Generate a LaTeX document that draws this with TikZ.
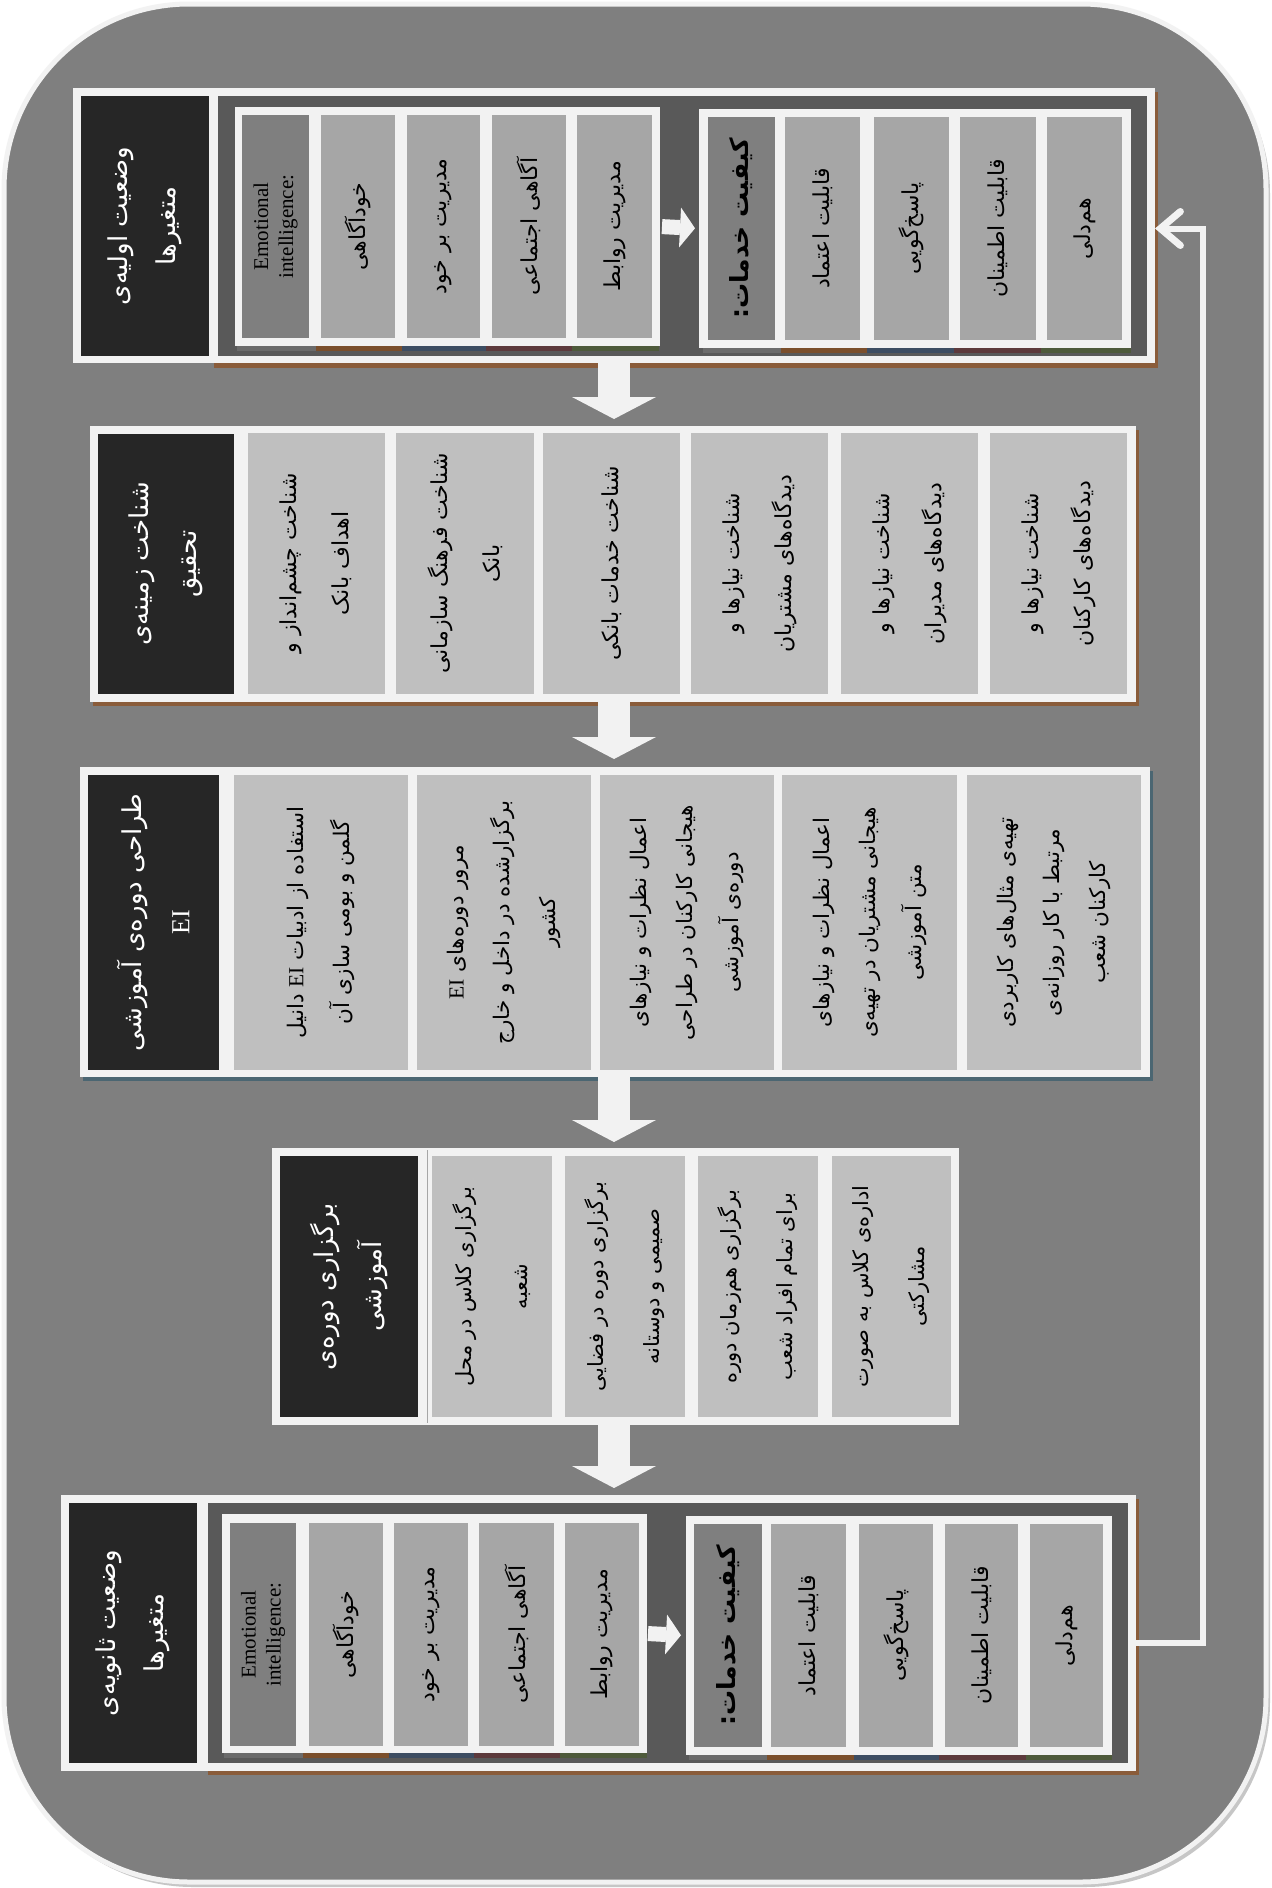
\documentclass[tikz,border=0pt]{standalone}
\usepackage{fontspec}
\setmainfont{Liberation Serif}
\newfontfamily\farsi[Script=Arabic]{DejaVu Sans}
\newfontfamily\latn{Liberation Serif}
\TeXXeTstate=1
\usetikzlibrary{arrows.meta}
\definecolor{bg}{HTML}{7F7F7F}
\definecolor{wf}{HTML}{F2F2F2}
\definecolor{dk}{HTML}{595959}
\definecolor{blk}{HTML}{262626}
\definecolor{cA}{HTML}{A6A6A6}
\definecolor{cD}{HTML}{7F7F7F}
\definecolor{cB}{HTML}{BFBFBF}
\definecolor{shB}{HTML}{8A5C3A}
\definecolor{shT}{HTML}{4B6672}
\definecolor{bA}{HTML}{6B6B6B}
\definecolor{bB}{HTML}{7B4F2C}
\definecolor{bC}{HTML}{3D4D62}
\definecolor{bD}{HTML}{5D3A3C}
\definecolor{bE}{HTML}{4E5A3B}
\newcommand\myRL[1]{\beginR#1\endR}
\newcommand\myLR[1]{\beginL{\latn #1}\endL{}}
\newcommand\mkrect[6]{\node[#6, anchor=north west, inner sep=0pt, outer sep=0pt, minimum width={(#4-#2)*1pt}, minimum height={(#5-#3)*1pt}] (#1) at (#2,#3) {};}
\newcommand\mkcell[7]{\node[#6, rotate=90, inner sep=0pt, outer sep=0pt, minimum width={(#5-#3)*1pt}, minimum height={(#4-#2)*1pt}] (#1) at ({(#2+#4)/2},{(#3+#5)/2}) {#7};}
\tikzset{
 frame/.style={fill=wf},
 dark/.style={fill=dk},
 tx/.style={align=center, text=black, font=\farsi\fontsize{22}{52}\selectfont},
 ttl/.style={fill=blk, align=center, text=white, font=\farsi\fontsize{26}{48}\selectfont},
 cellA/.style={fill=cA, tx},
 cellD/.style={fill=cD, tx},
 cellB/.style={fill=cB, tx},
 cellB3/.style={fill=cB, tx, font=\farsi\fontsize{21.5}{46}\selectfont},
 cellB4/.style={fill=cB, tx, font=\farsi\fontsize{21}{56}\selectfont},
 eicell/.style={fill=cD, align=center, text=black, font=\latn\fontsize{21}{25}\selectfont},
 sqcell/.style={fill=cD, align=center, text=black, font=\farsi\bfseries\fontsize{25}{30}\selectfont},
 blockarrow/.style={draw=wf, line width=32pt, -{Triangle[length=22pt,width=84pt,line width=0pt]}},
 smallarrow/.style={draw=wf, line width=15pt, -{Triangle[length=15pt,width=40pt,line width=0pt]}},
 fb/.style={draw=wf, line width=6pt, -{Straight Barb[length=20pt,width=34pt,line width=7pt,line cap=round]}},
}
\begin{document}
\begin{tikzpicture}[x=1pt,y=-1pt]
\useasboundingbox (0,0) rectangle (1272,1888);
\fill[white] (0,0) rectangle (1272,1888);
% outer rounded panel
\fill[gray!45, rounded corners=185pt] (8,9) rectangle (1270,1887);
\draw[wf, fill=bg, line width=5pt, rounded corners=185pt] (4,4) rectangle (1266,1882);

% ================= Row 1 =================
\mkrect{r1tf}{73}{88}{217}{363}{frame}
\mkcell{r1t}{81}{96}{209}{356}{ttl}{\myRL{وضعیت اولیه‌ی}\\\myRL{متغیرها}}
\fill[shB] (214,92) rectangle (1158,368);
\mkrect{r1box}{211}{88}{1155}{363}{frame}
\mkrect{r1in}{218}{96}{1147}{356}{dark}
\fill[bA] (237,342) rectangle (316,351);
\fill[bB] (316,342) rectangle (402,351);
\fill[bC] (402,342) rectangle (486,351);
\fill[bD] (486,342) rectangle (572,351);
\fill[bE] (572,342) rectangle (659,351);
\fill[bA] (703,344) rectangle (781,353);
\fill[bB] (781,344) rectangle (867,353);
\fill[bC] (867,344) rectangle (954,353);
\fill[bD] (954,344) rectangle (1041,353);
\fill[bE] (1041,344) rectangle (1131,353);
\mkrect{r1eg}{235}{107}{660}{346}{frame}
\mkcell{r1e0}{242}{115}{309}{338}{eicell}{Emotional\\intelligence:}
\mkcell{r1e1}{321}{115}{395}{338}{cellA}{\myRL{خودآگاهی}}
\mkcell{r1e2}{407}{115}{480}{338}{cellA}{\myRL{مدیریت بر خود}}
\mkcell{r1e3}{492}{115}{566}{338}{cellA}{\myRL{آگاهی اجتماعی}}
\mkcell{r1e4}{577}{115}{652}{338}{cellA}{\myRL{مدیریت روابط}}
\mkrect{r1sg}{699}{109}{1131}{348}{frame}
\mkcell{r1s0}{708}{117}{775}{340}{sqcell}{\myRL{کیفیت خدمات:}}
\mkcell{r1s1}{785}{117}{860}{340}{cellA}{\myRL{قابلیت اعتماد}}
\mkcell{r1s2}{874}{117}{949}{340}{cellA}{\myRL{پاسخ‌گویی}}
\mkcell{r1s3}{960}{117}{1036}{340}{cellA}{\myRL{قابلیت اطمینان}}
\mkcell{r1s4}{1047}{117}{1122}{340}{cellA}{\myRL{هم‌دلی}}
\draw[smallarrow, shorten <=2pt, shorten >=4pt] (r1eg.east) -- (r1sg.west);

% ================= Row 2 =================
\fill[shB] (93,430) rectangle (1139,706);
\mkrect{r2box}{90}{426}{1136}{702}{frame}
\mkcell{r2t}{97.5}{434}{234}{694}{ttl}{\myRL{شناخت زمینه‌ی}\\\myRL{تحقیق}}
\mkcell{r2c1}{247.5}{433}{384.5}{694}{cellB}{\myRL{شناخت چشم‌انداز و}\\\myRL{اهداف بانک}}
\mkcell{r2c2}{396}{433}{534}{694}{cellB}{\myRL{شناخت فرهنگ سازمانی}\\\myRL{بانک}}
\mkcell{r2c3}{543}{433}{680}{694}{cellB}{\myRL{شناخت خدمات بانکی}}
\mkcell{r2c4}{691}{433}{828}{694}{cellB}{\myRL{شناخت نیازها و}\\\myRL{دیدگاه‌های مشتریان}}
\mkcell{r2c5}{841}{433}{978}{694}{cellB}{\myRL{شناخت نیازها و}\\\myRL{دیدگاه‌های مدیران}}
\mkcell{r2c6}{990}{433}{1127}{694}{cellB}{\myRL{شناخت نیازها و}\\\myRL{دیدگاه‌های کارکنان}}

% ================= Row 3 =================
\fill[shT] (83,771) rectangle (1153,1081);
\mkrect{r3box}{80}{767}{1150}{1077}{frame}
\mkcell{r3t}{87.5}{775}{219}{1070}{ttl}{\myRL{طراحی دوره‌ی آموزشی}\\{\latn EI}}
\mkcell{r3c1}{234}{775}{407.5}{1070}{cellB3}{\myRL{استفاده از ادبیات \myLR{EI} دانیل}\\\myRL{گلمن و بومی سازی آن}}
\mkcell{r3c2}{417}{775}{591}{1070}{cellB3}{\myRL{مرور دوره‌های \myLR{EI}}\\\myRL{برگزارشده در داخل و خارج}\\\myRL{کشور}}
\mkcell{r3c3}{600}{775}{774}{1070}{cellB3}{\myRL{اعمال نظرات و نیازهای}\\\myRL{هیجانی کارکنان در طراحی}\\\myRL{دوره‌ی آموزشی}}
\mkcell{r3c4}{782}{775}{957}{1070}{cellB3}{\myRL{اعمال نظرات و نیازهای}\\\myRL{هیجانی مشتریان در تهیه‌ی}\\\myRL{متن آموزشی}}
\mkcell{r3c5}{967}{775}{1141}{1070}{cellB3}{\myRL{تهیه‌ی مثال‌های کاربردی}\\\myRL{مرتبط با کار روزانه‌ی}\\\myRL{کارکنان شعب}}

% ================= Row 4 =================
\mkrect{r4box}{271.5}{1148}{959}{1425}{frame}
\mkcell{r4t}{280}{1156}{418}{1417}{ttl}{\myRL{برگزاری دوره‌ی}\\\myRL{آموزشی}}
\draw[gray!70, line width=1pt] (427.5,1150) -- (427.5,1423);
\mkcell{r4c1}{432}{1156}{552}{1417}{cellB4}{\myRL{برگزاری کلاس در محل}\\\myRL{شعبه}}
\mkcell{r4c2}{565}{1156}{685}{1417}{cellB4}{\myRL{برگزاری دوره در فضایی}\\\myRL{صمیمی و دوستانه}}
\mkcell{r4c3}{698}{1156}{818}{1417}{cellB4}{\myRL{برگزاری هم‌زمان دوره}\\\myRL{برای تمام افراد شعب}}
\mkcell{r4c4}{832}{1156}{951}{1417}{cellB4}{\myRL{اداره‌ی کلاس به صورت}\\\myRL{مشارکتی}}

% ================= Row 5 =================
\mkrect{r5tf}{61}{1495}{204}{1771}{frame}
\mkcell{r5t}{69}{1503}{197}{1763}{ttl}{\myRL{وضعیت ثانویه‌ی}\\\myRL{متغیرها}}
\fill[shB] (208,1499) rectangle (1139,1775);
\mkrect{r5box}{204}{1495}{1136}{1771}{frame}
\mkrect{r5in}{208}{1503}{1128}{1763}{dark}
\fill[bA] (224,1749) rectangle (303,1758);
\fill[bB] (303,1749) rectangle (389,1758);
\fill[bC] (389,1749) rectangle (474,1758);
\fill[bD] (474,1749) rectangle (560,1758);
\fill[bE] (560,1749) rectangle (647,1758);
\fill[bA] (689,1751) rectangle (767,1760);
\fill[bB] (767,1751) rectangle (854,1760);
\fill[bC] (854,1751) rectangle (939,1760);
\fill[bD] (939,1751) rectangle (1026,1760);
\fill[bE] (1026,1751) rectangle (1112,1760);
\mkrect{r5eg}{222}{1514}{647}{1753}{frame}
\mkcell{r5e0}{230}{1523}{296}{1746}{eicell}{Emotional\\intelligence:}
\mkcell{r5e1}{309}{1523}{383}{1746}{cellA}{\myRL{خودآگاهی}}
\mkcell{r5e2}{394}{1523}{468}{1746}{cellA}{\myRL{مدیریت بر خود}}
\mkcell{r5e3}{479}{1523}{554}{1746}{cellA}{\myRL{آگاهی اجتماعی}}
\mkcell{r5e4}{565}{1523}{639}{1746}{cellA}{\myRL{مدیریت روابط}}
\mkrect{r5sg}{686}{1516}{1112}{1755}{frame}
\mkcell{r5s0}{694}{1524}{761.5}{1747}{sqcell}{\myRL{کیفیت خدمات:}}
\mkcell{r5s1}{771}{1524}{846}{1747}{cellA}{\myRL{قابلیت اعتماد}}
\mkcell{r5s2}{859}{1524}{933}{1747}{cellA}{\myRL{پاسخ‌گویی}}
\mkcell{r5s3}{945}{1524}{1018}{1747}{cellA}{\myRL{قابلیت اطمینان}}
\mkcell{r5s4}{1030}{1524}{1103}{1747}{cellA}{\myRL{هم‌دلی}}
\draw[smallarrow, shorten <=1pt, shorten >=5pt] (r5eg.east) -- (r5sg.west);

% ================= connectors =================
\coordinate (ax) at (614,0);
\draw[blockarrow, shorten >=7pt] (r1box.south -| ax) -- (r2box.north -| ax);
\draw[blockarrow, shorten >=8pt] (r2box.south -| ax) -- (r3box.north -| ax);
\draw[blockarrow, shorten >=6pt] (r3box.south -| ax) -- (r4box.north -| ax);
\draw[blockarrow, shorten >=7pt] (r4box.south -| ax) -- (r5box.north -| ax);
\coordinate (fbx) at (1203,0);
\draw[fb] ([yshift=-10pt]r5box.east) -- ([yshift=-10pt]r5box.east -| fbx) |- ([yshift=-3pt]r1box.east);
\end{tikzpicture}
\end{document}
